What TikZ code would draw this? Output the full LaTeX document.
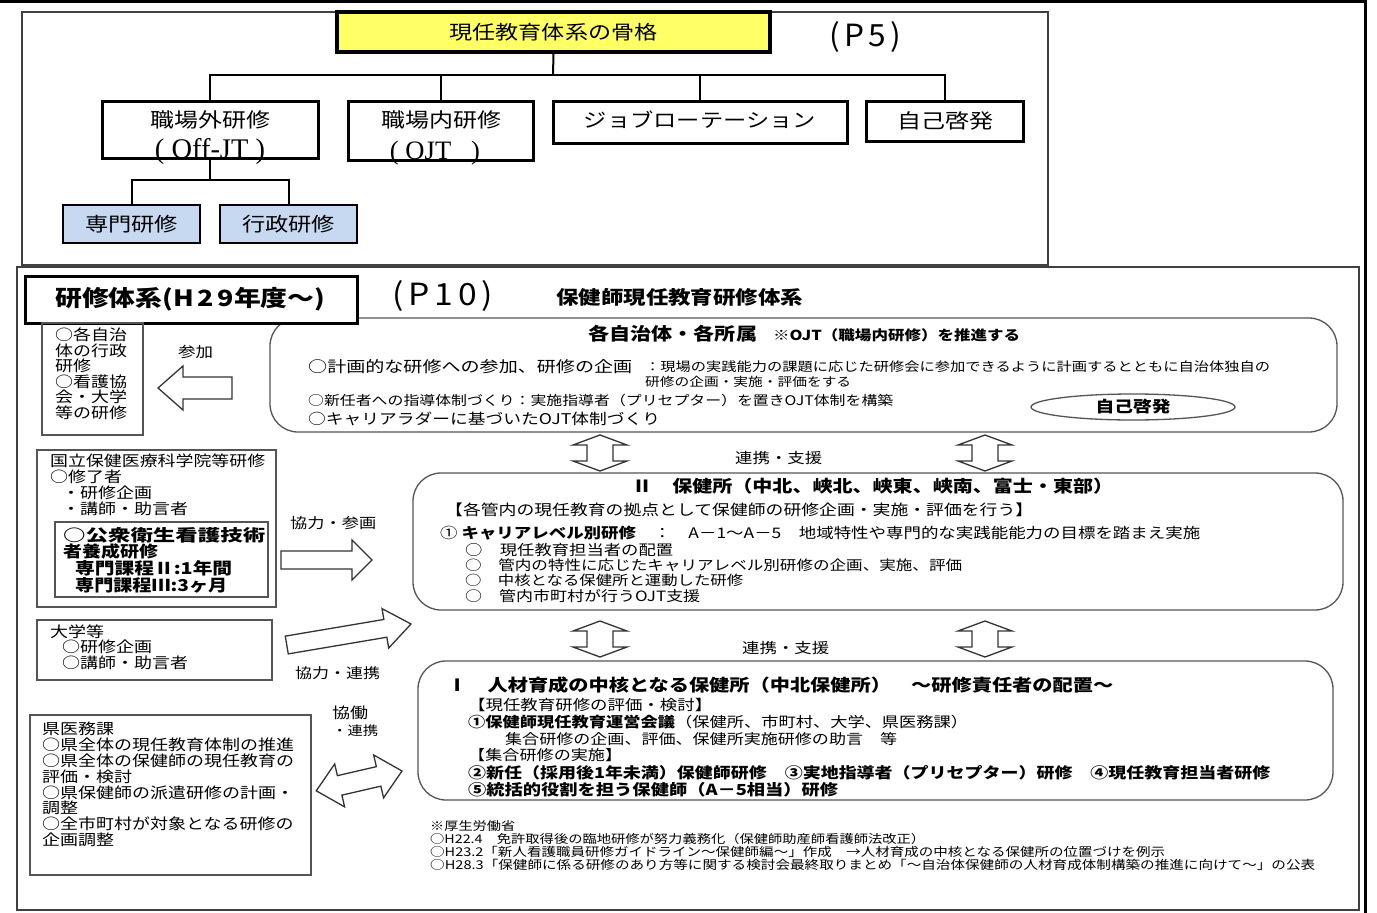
\documentclass[tikz,border=0pt]{standalone}
\usepackage{fontspec}
\setmainfont{Noto Sans CJK JP}[FakeStretch=1.2]
\newfontfamily\tms{Liberation Serif}
\usetikzlibrary{shapes.geometric}
\definecolor{boxblue}{HTML}{C6D9F1}
\definecolor{titleyellow}{HTML}{FFFF66}
\definecolor{linegray}{HTML}{555555}
\newcommand\fitw[2]{\resizebox{#1pt}{!}{#2}}
\newcommand\fitwh[3]{\resizebox{#1pt}{#2pt}{#3}}
\newcommand\sarrow[7]{%
 \draw[blk, shift={(#1,#2)}, rotate=#3] (0,0) -- (-#5,#6) -- (-#5,#7) -- (-#4,#7) -- (-#4,-#7) -- (-#5,-#7) -- (-#5,-#6) -- cycle;}
\newcommand\darrow[7]{%
 \draw[blk, shift={(#1,#2)}, rotate=#3] (0,0) -- (-#5,#6) -- (-#5,#7) -- ({-#4+#5},#7) -- ({-#4+#5},#6) -- (-#4,0) -- ({-#4+#5},-#6) -- ({-#4+#5},-#7) -- (-#5,-#7) -- (-#5,-#6) -- cycle;}
\begin{document}
\begin{tikzpicture}[x=1pt,y=-1pt,
  txt/.style={inner sep=0pt, anchor=west},
  ctxt/.style={inner sep=0pt},
  hbox/.style={draw, line width=3pt, inner sep=0pt},
  bluebox/.style={draw, line width=1.3pt, fill=boxblue, inner sep=0pt},
  rbox/.style={draw=linegray, line width=1.3pt, rounded corners=28pt, inner sep=0pt},
  plainbox/.style={draw=linegray, line width=1.3pt, inner sep=0pt},
  conn/.style={line width=2pt},
  blk/.style={draw=black!80, line width=1.3pt, fill=white, line join=miter},
  sm/.style={txt, font=\fontsize{15}{16}\selectfont},
]
\useasboundingbox (0,0) rectangle (1377,913);
\fill[white] (0,0) rectangle (1377,913);
% frames
\draw[line width=1.2pt, black!75] (22,12) rectangle (1048,265);
\draw[line width=1.2pt, black!75] (17,267) rectangle (1359,910);
\draw[line width=3pt] (0,1.5) -- (1365.5,1.5) -- (1365.5,913);

% ===== upper tree =====
\node[draw, line width=4pt, fill=titleyellow, minimum width=433, minimum height=40, inner sep=0pt] (T) at (553.5,32) {\fitw{208}{現任教育体系の骨格}};
\node[ctxt] (p5) at (865,37) {\resizebox{72pt}{25pt}{(\,P\,5\,)}};

\node[hbox, minimum width=216, minimum height=57] (b1) at (210,129.5) {};
\node[hbox, minimum width=185, minimum height=59] (b2) at (440.5,130.5) {};
\node[hbox, minimum width=294, minimum height=42] (b3) at (700,122) {};
\node[hbox, minimum width=157, minimum height=40] (b4) at (944.5,121) {};
\node[ctxt] (b1t) at (210,120) {\fitw{120}{職場外研修}};
\node[ctxt] (b1s) at (210,152) {\fitw{110}{\tms (\ Off-JT\ )}};
\node[ctxt] (b2t) at (441,120) {\fitw{120}{職場内研修}};
\node[ctxt] (b2s) at (435,153) {\fitw{90}{\tms (\ OJT\ \ \ )}};
\node[ctxt] (b3t) at (700,120) {\fitw{232}{ジョブローテーション}};
\node[ctxt] (b4t) at (945,121) {\fitw{96}{自己啓発}};

\node[bluebox, minimum width=137, minimum height=38] (s1) at (131.5,224) {\fitw{93}{専門研修}};
\node[bluebox, minimum width=137, minimum height=38] (s2) at (288.5,224) {\fitw{93}{行政研修}};

\coordinate (bus) at (553,75);
\coordinate (bus2) at (210,180);
\draw[conn] (T.south) -- (bus);
\draw[conn] (b1.north) -- (b1.north |- bus) -- (b4.north |- bus) -- (b4.north);
\draw[conn] (b2.north) -- (b2.north |- bus);
\draw[conn] (b3.north) -- (b3.north |- bus);
\draw[conn] (b1.south) -- (bus2);
\draw[conn] (s1.north) -- (s1.north |- bus2) -- (s2.north |- bus2) -- (s2.north);

% ===== lower section =====
\node[rbox, minimum width=1067, minimum height=114] (top) at (803.5,375) {};
\node[rbox, minimum width=930, minimum height=137] (II) at (878,541.5) {};
\node[rbox, minimum width=915, minimum height=139] (I) at (875.5,730.5) {};

\node[hbox, fill=white, minimum width=332, minimum height=47] (sys) at (191,299.5) {};
\node[txt] (syst) at (55,299) {\fitw{270}{\bfseries 研修体系(H\,2\,9年度～)}};
\node[ctxt] (p10) at (443,296) {\resizebox{100pt}{25pt}{(\,P\,1\,0\,)}};
\node[txt] (ttl) at (556,297) {\fitw{247}{\bfseries 保健師現任教育研修体系}};

% top rounded box text
\node[txt] (a1) at (588,334) {\fitw{169}{\bfseries 各自治体・各所属}};
\node[txt] (a2) at (773,335) {\fitw{247}{\bfseries ※OJT（職場内研修）を推進する}};
\node[txt] (a3) at (308,367) {\fitwh{324}{13}{○計画的な研修への参加、研修の企画}};
\node[txt] (a4) at (645,367) {\fitw{625}{：現場の実践能力の課題に応じた研修会に参加できるように計画するとともに自治体独自の}};
\node[txt] (a5) at (645,382) {\fitw{206}{研修の企画・実施・評価をする}};
\node[txt] (a6) at (308,400) {\fitw{585}{○新任者への指導体制づくり：実施指導者（プリセプター）を置きOJT体制を構築}};
\node[txt] (a7) at (308,419) {\fitw{352}{○キャリアラダーに基づいたOJT体制づくり}};
\node[draw=linegray, line width=1.3pt, ellipse, minimum width=204, minimum height=26, inner sep=0pt] (jk) at (1133,407) {\fitw{75}{\bfseries 自己啓発}};

% left box 1
\node[plainbox, minimum width=101, minimum height=112] (L1) at (92.5,379) {};
\node[sm] (l1a) at (55,335) {○各自治};
\node[sm] (l1b) at (55,351) {体の行政};
\node[sm] (l1c) at (55,366) {研修};
\node[sm] (l1d) at (55,382) {○看護協};
\node[sm] (l1e) at (55,397) {会・大学};
\node[sm] (l1f) at (55,413) {等の研修};
\node[txt] (sanka) at (178,352) {\fitw{35}{参加}};
\sarrow{158}{388}{180}{74}{25}{22}{11}

% 国立 box
\node[plainbox, minimum width=239, minimum height=157] (K) at (156.5,528.5) {};
\node[plainbox, minimum width=213, minimum height=75] (Kin) at (161.5,559.5) {};
\node[txt] (k1) at (50,461) {\fitw{215}{国立保健医療科学院等研修}};
\node[sm] (k2) at (50,477) {○修了者};
\node[sm] (k3) at (62,493) {・研修企画};
\node[sm] (k4) at (62,509) {・講師・助言者};
\node[txt] (k5) at (63,535) {\fitwh{202}{14}{\bfseries ○公衆衛生看護技術}};
\node[txt] (k6) at (63,551) {\fitw{95}{\bfseries 者養成研修}};
\node[txt] (k7) at (75,568) {\fitwh{157}{14}{\bfseries 専門課程Ⅱ:1年間}};
\node[txt] (k8) at (75,585) {\fitwh{152}{14}{\bfseries 専門課程Ⅲ:3ヶ月}};
\node[txt] (kr) at (290,523) {\fitw{86}{協力・参画}};
\sarrow{372}{560}{0}{91}{20}{20}{9}

% 大学等
\node[plainbox, minimum width=235, minimum height=60] (U) at (154.5,650) {};
\node[sm] (u1) at (50,632) {大学等};
\node[sm] (u2) at (62,647) {○研修企画};
\node[sm] (u3) at (62,663) {○講師・助言者};
\node[txt] (ur) at (295,673) {\fitw{85}{協力・連携}};
\sarrow{411}{624}{9.6}{126}{26}{20}{9}

% 県医務課
\node[plainbox, minimum width=281, minimum height=160] (P) at (170.5,795) {};
\node[sm] (q1) at (42,729) {県医務課};
\node[sm] (q2) at (42,745) {○県全体の現任教育体制の推進};
\node[sm] (q3) at (42,761) {○県全体の保健師の現任教育の};
\node[sm] (q4) at (42,777) {評価・検討};
\node[sm] (q5) at (42,793) {○県保健師の派遣研修の計画・};
\node[sm] (q6) at (42,808) {調整};
\node[sm] (q7) at (42,824) {○全市町村が対象となる研修の};
\node[sm] (q8) at (42,840) {企画調整};
\node[txt] (qr1) at (332,713) {\fitw{36}{協働}};
\node[txt] (qr2) at (332,731) {\fitw{46}{・連携}};
\darrow{402}{771}{13}{88}{24}{22}{10}

% vertical double arrows
\darrow{600}{471}{-90}{36}{10}{27}{13}
\darrow{985}{471}{-90}{36}{10}{27}{13}
\darrow{600}{657}{-90}{36}{10}{27}{13}
\darrow{985}{657}{-90}{36}{10}{27}{13}
\node[txt] (r1) at (735,458) {\fitw{87}{連携・支援}};
\node[txt] (r2) at (742,648) {\fitw{87}{連携・支援}};

% II box text
\node[txt] (h1) at (632,486) {\fitw{481}{\bfseries Ⅱ　保健所（中北、峡北、峡東、峡南、富士・東部）}};
\node[txt] (h2) at (445,510) {\fitw{588}{【各管内の現任教育の拠点として保健師の研修企画・実施・評価を行う】}};
\node[txt] (h3) at (440,533) {\fitw{760}{① {\bfseries キャリアレベル別研修}　：　A－1～A－5　地域特性や専門的な実践能能力の目標を踏まえ実施}};
\node[txt] (h4) at (465,550) {\fitw{208}{○　現任教育担当者の配置}};
\node[txt] (h5) at (465,565) {\fitw{497}{○　管内の特性に応じたキャリアレベル別研修の企画、実施、評価}};
\node[txt] (h6) at (465,580) {\fitw{278}{○　中核となる保健所と運動した研修}};
\node[txt] (h7) at (465,596) {\fitw{235}{○　管内市町村が行うOJT支援}};

% I box text
\node[txt] (i1) at (447,685) {\fitw{666}{\bfseries Ⅰ　人材育成の中核となる保健所（中北保健所）　～研修責任者の配置～}};
\node[txt] (i2) at (468,705) {\fitw{244}{【現任教育研修の評価・検討】}};
\node[txt] (i3) at (468,722) {\fitw{500}{{\bfseries ①保健師現任教育運営会議}（保健所、市町村、大学、県医務課）}};
\node[txt] (i4) at (505,739) {\fitw{392}{集合研修の企画、評価、保健所実施研修の助言　等}};
\node[txt] (i5) at (468,755) {\fitw{154}{【集合研修の実施】}};
\node[txt] (i6) at (468,773) {\fitw{802}{\bfseries ②新任（採用後1年未満）保健師研修　③実地指導者（プリセプター）研修　④現任教育担当者研修}};
\node[txt] (i7) at (468,790) {\fitw{370}{\bfseries ⑤統括的役割を担う保健師（A－5相当）研修}};

% footnote
\node[txt] (f1) at (430,826) {\fitw{85}{※厚生労働省}};
\node[txt] (f2) at (430,839) {\fitw{495}{○H22.4　免許取得後の臨地研修が努力義務化（保健師助産師看護師法改正）}};
\node[txt] (f3) at (430,852) {\fitw{735}{○H23.2「新人看護職員研修ガイドライン～保健師編～」作成　→人材育成の中核となる保健所の位置づけを例示}};
\node[txt] (f4) at (430,865) {\fitw{885}{○H28.3「保健師に係る研修のあり方等に関する検討会最終取りまとめ「～自治体保健師の人材育成体制構築の推進に向けて～」の公表}};
\end{tikzpicture}
\end{document}
